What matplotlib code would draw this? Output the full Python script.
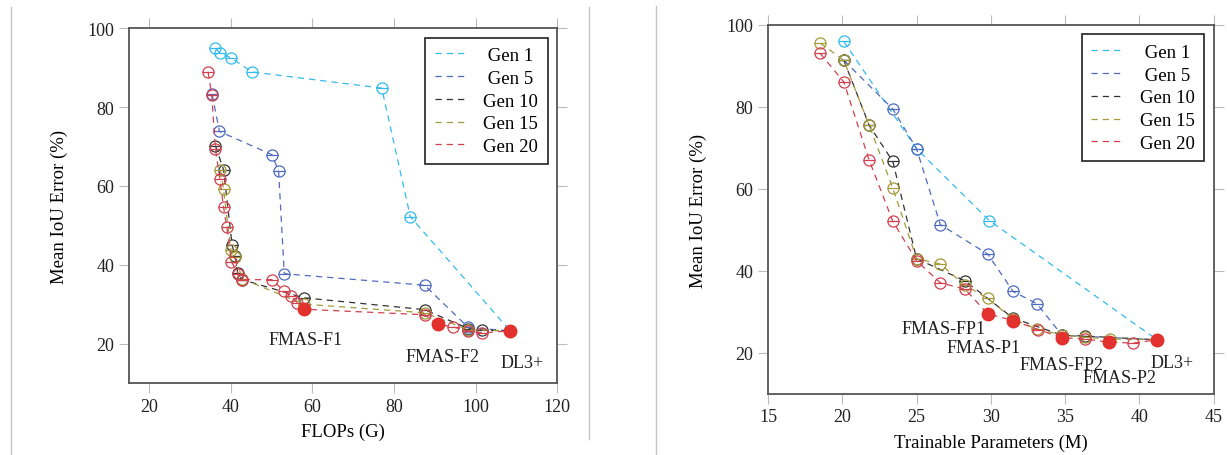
import numpy as np
import matplotlib
matplotlib.use("Agg")
import matplotlib.pyplot as plt
from matplotlib.lines import Line2D

plt.rcParams['font.family'] = ['Liberation Serif', 'DejaVu Serif']
plt.rcParams['font.size'] = 13

gens = ["Gen 1", "Gen 5", "Gen 10", "Gen 15", "Gen 20"]
colors = ["#33bbee", "#4f6bc0", "#333333", "#a39a3a", "#d2404f"]

# left panel: FLOPs (G) vs mean IoU error (%)
flops_x = [
    [36.2, 37.3, 40.1, 45.2, 77.0, 84.0, 108.5],
    [35.4, 37.2, 50.1, 51.7, 53.1, 87.5, 98.2, 108.5],
    [36.2, 38.2, 40.3, 41.0, 41.7, 42.8, 57.9, 87.5, 98.2, 101.6, 108.5],
    [37.4, 38.2, 40.0, 41.1, 42.8, 57.9, 87.5, 98.2, 108.5],
    [34.4, 35.3, 36.2, 37.3, 38.2, 39.0, 40.1, 41.8, 42.8, 50.1, 53.0, 54.7,
     56.3, 57.9, 87.5, 90.9, 94.5, 98.2, 101.6, 108.5],
]
flops_y = [
    [94.9, 93.8, 92.4, 88.9, 84.8, 52.2, 23.2],
    [83.2, 73.8, 67.9, 63.7, 37.7, 34.8, 24.1, 23.2],
    [70.2, 64.1, 45.0, 42.2, 37.8, 36.2, 31.6, 28.6, 23.8, 23.4, 23.2],
    [64.0, 59.1, 43.7, 42.0, 36.4, 30.0, 27.8, 23.5, 23.2],
    [88.9, 83.1, 69.4, 61.8, 54.6, 49.5, 40.8, 37.7, 36.2, 36.2, 33.3, 32.0,
     30.4, 28.7, 27.3, 24.9, 24.2, 23.2, 22.7, 23.2],
]
flops_best = [13, 15, 19]  # indices of Gen 20 that are filled
flops_names = ["FMAS-F1", "FMAS-F2", "DL3+"]
flops_name_x = [58.2, 92.0, 111.4]
flops_name_y = [20.9, 16.6, 15.3]

# right panel: trainable parameters (M) vs mean IoU error (%)
params_x = [
    [20.1, 25.0, 29.9, 41.2],
    [20.1, 23.4, 25.0, 26.6, 29.8, 31.5, 33.1, 34.8, 41.2],
    [20.1, 21.8, 23.4, 25.0, 28.25, 31.5, 34.8, 36.35, 41.2],
    [18.5, 20.1, 21.8, 23.4, 25.0, 26.6, 28.25, 29.8, 31.5, 33.1, 34.8, 36.35,
     38.0, 41.2],
    [18.5, 20.1, 21.8, 23.4, 25.0, 26.6, 28.25, 29.8, 31.5, 33.2, 34.8, 36.35,
     37.95, 39.6, 41.2],
]
params_y = [
    [96.0, 69.8, 52.3, 23.2],
    [91.4, 79.5, 69.8, 51.3, 44.1, 35.0, 32.0, 24.3, 23.2],
    [91.4, 75.6, 66.7, 43.0, 37.6, 28.5, 24.3, 24.1, 23.2],
    [95.6, 91.4, 75.6, 60.2, 43.0, 41.7, 36.5, 33.3, 28.2, 25.8, 24.4, 23.8,
     23.4, 23.2],
    [93.1, 86.1, 67.1, 52.1, 42.5, 37.1, 35.6, 29.5, 27.9, 25.7, 23.7, 23.4,
     22.6, 22.4, 23.2],
]
params_best = [7, 8, 10, 12, 14]
params_names = ["FMAS-FP1", "FMAS-P1", "FMAS-FP2", "FMAS-P2", "DL3+"]
params_name_x = [26.8, 29.5, 34.75, 38.7, 42.2]
params_name_y = [25.9, 21.2, 17.1, 14.1, 17.6]

fig = plt.figure(figsize=(12.27, 4.56), dpi=100)
ax1 = fig.add_axes([0.1051, 0.158, 0.3489, 0.778])
ax2 = fig.add_axes([0.626, 0.134, 0.363, 0.809])

# faint page frame lines
for x, y0, y1 in [(11, 8, 456), (589, 8, 440), (656, 7, 456)]:
    fig.add_artist(Line2D([x / 1227, x / 1227], [1 - y0 / 456, 1 - y1 / 456],
                          transform=fig.transFigure, color="#c4c4c4", lw=1))


def centred(label):
    # pad one-digit labels so the legend text looks centred like the original
    if len(label) == 5:
        return "\u2005" + label + "\u2005"
    return label


def draw(ax, xs, ys, best, names, nx, ny, xlim, xticks, xlabel):
    for i, g in enumerate(gens):
        c = colors[i]
        ax.plot(xs[i], ys[i], ls=(0, (5, 4)), lw=0.9, color=c,
                label=centred(g), zorder=2 + i)
        ax.plot(xs[i], ys[i], ls="none", marker="o", ms=8, mfc="none",
                mec=c, mew=0.9, zorder=2 + i)
        ax.plot(xs[i], ys[i], ls="none", marker="_", ms=8, mec=c, mew=0.9,
                zorder=2 + i)
    bx = [xs[-1][k] for k in best]
    by = [ys[-1][k] for k in best]
    ax.plot(bx, by, ls="none", marker="o", ms=9, color="#e3312d", zorder=10)
    for t, x, y in zip(names, nx, ny):
        ax.text(x, y, t, ha="center", va="center", fontsize=13, color="#222222")
    ax.set_xlim(*xlim)
    ax.set_ylim(10, 100)
    ax.set_xticks(xticks)
    ax.set_yticks([20, 40, 60, 80, 100])
    ax.set_xlabel(xlabel, fontsize=13.5, labelpad=6)
    ax.set_ylabel("Mean IoU Error (%)", fontsize=13.5, labelpad=14)
    ax.tick_params(direction="out", length=7, width=0.8, color="#bbbbbb",
                   top=True, right=True, labelsize=13, labelcolor="#222222")
    for s in ax.spines.values():
        s.set_color("#555555")
        s.set_linewidth(1.3)
    leg = ax.legend(loc="upper right", fontsize=13.5, frameon=True,
                    fancybox=False, edgecolor="#333333", framealpha=1,
                    handlelength=1.7, handletextpad=0.9, labelspacing=0.3,
                    borderpad=0.5, borderaxespad=0.5)
    leg.get_frame().set_linewidth(1.3)


draw(ax1, flops_x, flops_y, flops_best, flops_names, flops_name_x,
     flops_name_y, (15, 120), [20, 40, 60, 80, 100, 120], "FLOPs (G)")
draw(ax2, params_x, params_y, params_best, params_names, params_name_x,
     params_name_y, (15, 45), [15, 20, 25, 30, 35, 40, 45],
     "Trainable Parameters (M)")

fig.savefig("out.png", dpi=100)
